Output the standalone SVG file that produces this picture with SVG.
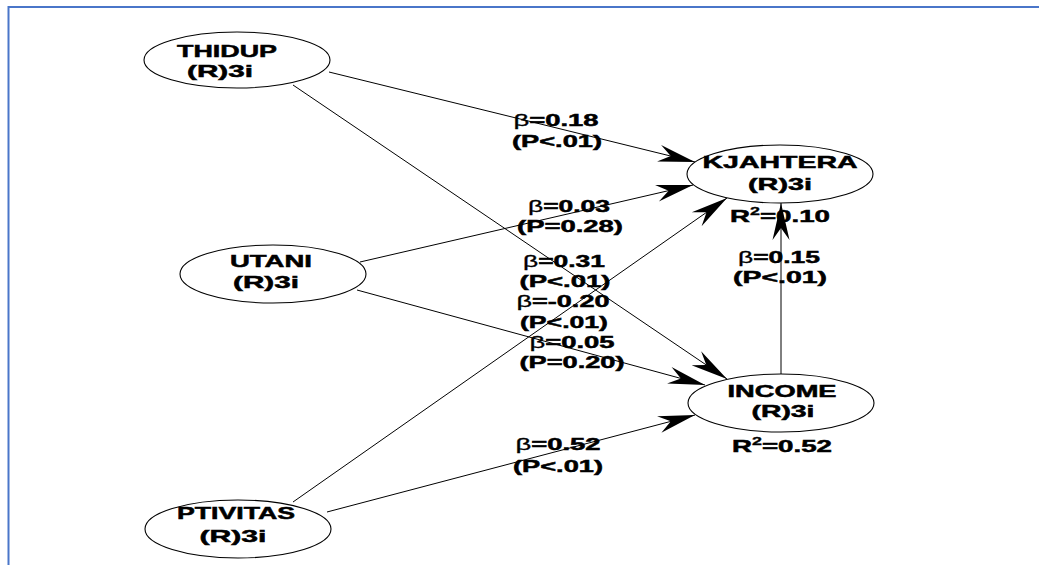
<svg xmlns="http://www.w3.org/2000/svg" width="1039" height="565" viewBox="0 0 1039 565">
<style>
.n{fill:#fff;stroke:#000;stroke-width:1.1}
.t{font-family:"Liberation Sans",Arial,sans-serif;font-weight:bold;font-size:17px;fill:#000;stroke:#000;stroke-width:0.5;text-anchor:middle}
.c{stroke:#000;stroke-width:1;fill:none;marker-end:url(#ah)}
.b{font-weight:normal;stroke-width:0.3}
</style>
<defs>
<marker id="ah" viewBox="-38 -10 40 20" refX="0" refY="0" markerWidth="40" markerHeight="20" markerUnits="userSpaceOnUse" orient="auto">
<path d="M0,0 L-37,-8.5 L-25,0 L-37,8.5 Z" fill="#000"/>
</marker>
</defs>
<rect width="1039" height="565" fill="#fff"/>
<path d="M8.5,565 V7 H1039" fill="none" stroke="#4a76c9" stroke-width="2"/>
<g id="connectors">
<line class="c" x1="329" y1="72" x2="695" y2="162"/>
<line class="c" x1="293" y1="85" x2="727" y2="379"/>
<line class="c" x1="360" y1="262" x2="693" y2="185"/>
<line class="c" x1="357" y1="290" x2="705" y2="385"/>
<line class="c" x1="293" y1="502" x2="727" y2="198"/>
<line class="c" x1="327" y1="512" x2="695" y2="415"/>
<line class="c" x1="781" y1="374" x2="781" y2="203"/>
</g>
<g id="labels">
<text class="t" x="556" y="126" textLength="85" lengthAdjust="spacingAndGlyphs"><tspan class="b">β</tspan>=0.18</text>
<text class="t" x="557" y="147" textLength="90" lengthAdjust="spacingAndGlyphs">(P&lt;.01)</text>
<text class="t" x="569" y="212" textLength="82" lengthAdjust="spacingAndGlyphs"><tspan class="b">β</tspan>=0.03</text>
<text class="t" x="570" y="232" textLength="106" lengthAdjust="spacingAndGlyphs">(P=0.28)</text>
<text class="t" x="564" y="267" textLength="82" lengthAdjust="spacingAndGlyphs"><tspan class="b">β</tspan>=0.31</text>
<text class="t" x="565" y="287" textLength="91" lengthAdjust="spacingAndGlyphs">(P&lt;.01)</text>
<text class="t" x="563" y="307" textLength="93" lengthAdjust="spacingAndGlyphs"><tspan class="b">β</tspan>=-0.20</text>
<text class="t" x="564" y="328" textLength="88" lengthAdjust="spacingAndGlyphs">(P&lt;.01)</text>
<text class="t" x="572" y="348" textLength="85" lengthAdjust="spacingAndGlyphs"><tspan class="b">β</tspan>=0.05</text>
<text class="t" x="572" y="368" textLength="105" lengthAdjust="spacingAndGlyphs">(P=0.20)</text>
<text class="t" x="558" y="450" textLength="85" lengthAdjust="spacingAndGlyphs"><tspan class="b">β</tspan>=0.52</text>
<text class="t" x="558" y="472" textLength="90" lengthAdjust="spacingAndGlyphs">(P&lt;.01)</text>
<text class="t" x="779" y="263" textLength="82" lengthAdjust="spacingAndGlyphs"><tspan class="b">β</tspan>=0.15</text>
<text class="t" x="780" y="283" textLength="94" lengthAdjust="spacingAndGlyphs">(P&lt;.01)</text>
</g>
<g id="THIDUP">
<ellipse class="n" cx="237" cy="60" rx="93" ry="28"/>
<text class="t" x="227" y="57" textLength="100" lengthAdjust="spacingAndGlyphs">THIDUP</text>
<text class="t" x="220" y="77" textLength="66" lengthAdjust="spacingAndGlyphs">(R)3i</text>
</g>
<g id="UTANI">
<ellipse class="n" cx="273" cy="274" rx="93" ry="29"/>
<text class="t" x="271" y="267" textLength="82" lengthAdjust="spacingAndGlyphs">UTANI</text>
<text class="t" x="266" y="288" textLength="66" lengthAdjust="spacingAndGlyphs">(R)3i</text>
</g>
<g id="PTIVITAS">
<ellipse class="n" cx="238" cy="529" rx="93" ry="29"/>
<text class="t" x="236" y="519" textLength="118" lengthAdjust="spacingAndGlyphs">PTIVITAS</text>
<text class="t" x="233" y="542" textLength="67" lengthAdjust="spacingAndGlyphs">(R)3i</text>
</g>
<g id="KJAHTERA">
<ellipse class="n" cx="780" cy="174" rx="93" ry="29"/>
<text class="t" x="780" y="168" textLength="155" lengthAdjust="spacingAndGlyphs">KJAHTERA</text>
<text class="t" x="780" y="190" textLength="64" lengthAdjust="spacingAndGlyphs">(R)3i</text>
<text class="t" x="780" y="222" textLength="100" lengthAdjust="spacingAndGlyphs">R<tspan dy="-7" font-size="11" stroke-width="0.3">2</tspan><tspan dy="7">=0.10</tspan></text>
</g>
<g id="INCOME">
<ellipse class="n" cx="781" cy="403" rx="93" ry="29"/>
<text class="t" x="782" y="397" textLength="109" lengthAdjust="spacingAndGlyphs">INCOME</text>
<text class="t" x="783" y="417" textLength="63" lengthAdjust="spacingAndGlyphs">(R)3i</text>
<text class="t" x="782" y="452" textLength="100" lengthAdjust="spacingAndGlyphs">R<tspan dy="-7" font-size="11" stroke-width="0.3">2</tspan><tspan dy="7">=0.52</tspan></text>
</g>
</svg>
